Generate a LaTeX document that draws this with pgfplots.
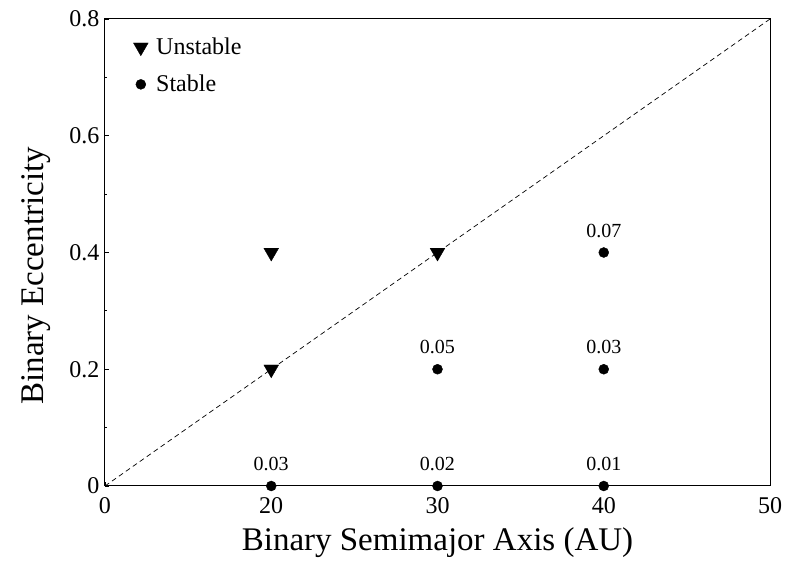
\documentclass[border=0pt]{standalone}
\usepackage{fontspec}
\setmainfont{Liberation Serif}
\usepackage{pgfplots}
\usepackage{pgfplotstable}
\pgfplotsset{compat=1.18}
\pgfplotstableread{
x y label
20 0.2 {}
20 0.4 {}
30 0.4 {}
}\unstable
\pgfplotstableread{
x y label
20 0.0 0.03
30 0.0 0.02
40 0.0 0.01
30 0.2 0.05
40 0.2 0.03
40 0.4 0.07
}\stable
\begin{document}
\begin{tikzpicture}
\useasboundingbox (-105pt,-75pt) rectangle (680pt,486pt);
\begin{axis}[
  scale only axis, width=665pt, height=467pt,
  at={(0,0)}, anchor=south west,
  xmin=10, xmax=50, ymin=0, ymax=0.8,
  xtick={10,20,30,40,50}, xticklabels={0,20,30,40,50},
  ytick={0,0.2,0.4,0.6,0.8}, yticklabels={0,0.2,0.4,0.6,0.8},
  minor ytick={0.1,0.3,0.5,0.7},
  tick align=inside, tick pos=left,
  major tick length=4pt, minor tick length=2.5pt,
  tick style={black, line width=0.8pt},
  axis line style={line width=1pt},
  /pgf/number format/assume math mode=true,
  tick label style={font=\fontsize{24}{24}\selectfont},
  xticklabel style={yshift=-8pt},
  yticklabel style={xshift=-2pt},
  label style={font=\fontsize{33}{33}\selectfont},
  xlabel={Binary Semimajor Axis (AU)},
  ylabel={Binary Eccentricity},
  xlabel shift=7pt,
  ylabel style={at={(ticklabel* cs:0.45,51pt)}},
  clip=false,
  legend style={draw=none, fill=none, at={(0.038,0.968)}, anchor=north west,
    font=\fontsize{24}{24}\selectfont, row sep=15pt, column sep=6pt},
  legend cell align=left,
]
\addplot[black, dashed, line width=0.7pt, dash pattern=on 5pt off 3.5pt, forget plot] coordinates {(10,0) (50,0.8)};
\addplot[only marks, mark=triangle*, mark size=8.5pt, mark options={rotate=180, fill=black, draw=black}] table[x=x, y=y] {\unstable};
\addlegendentry{Unstable}
\addplot[only marks, mark=*, mark size=5pt, mark options={fill=black, draw=black},
  nodes near coords, point meta=explicit symbolic,
  nodes near coords style={font=\fontsize{20}{20}\selectfont, anchor=center, yshift=22pt, inner sep=0pt}]
  table[x=x, y=y, meta=label] {\stable};
\addlegendentry{Stable}
\end{axis}
\end{tikzpicture}
\end{document}
